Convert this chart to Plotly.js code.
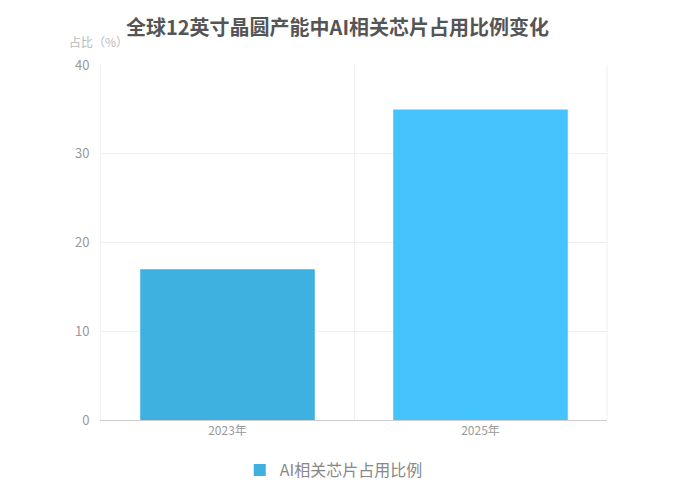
<!DOCTYPE html>
<html>
<head>
<meta charset="utf-8">
<script src="https://cdn.plot.ly/plotly-3.0.1.min.js"></script>
<style>html,body{margin:0;padding:0;background:#fff;}#chart{width:675px;height:500px;}</style>
</head>
<body>
<div id="chart"></div>
<script>
const categories = ["2023年", "2025年"];
const shareValues = [17, 35];
const barColors = ["#3EB1E0", "#45C3FC"];
const seriesName = "AI相关芯片占用比例";
const titleText = "全球12英寸晶圆产能中AI相关芯片占用比例变化";
const yTitleText = "占比（%）";

const font = '"Noto Sans CJK SC", "Open Sans", sans-serif';

Plotly.newPlot("chart", [{
  type: "bar",
  x: categories,
  y: shareValues,
  name: seriesName,
  marker: { color: barColors },
  width: 0.69,
  showlegend: true,
  hoverinfo: "x+y"
}], {
  width: 675, height: 500,
  margin: { l: 101, r: 68, t: 65, b: 80, autoexpand: false },
  paper_bgcolor: "#fff", plot_bgcolor: "#fff",
  font: { family: font, color: "#999", size: 12 },
  title: {
    text: "<b>" + titleText + "</b>",
    x: 0.5, xanchor: "center", y: 0.944, yanchor: "middle",
    font: { family: font, size: 20, color: "#555" }
  },
  xaxis: {
    type: "category",
    tickson: "boundaries",
    showgrid: true, gridcolor: "#EFEFEF", gridwidth: 1,
    showline: true, linecolor: "#CCCCCC", linewidth: 1,
    ticks: "", ticklen: 0,
    tickfont: { size: 12, color: "#999" },
    zeroline: false, fixedrange: true
  },
  yaxis: {
    range: [0, 40],
    tickvals: [0, 10, 20, 30, 40],
    showgrid: true, gridcolor: "#EFEFEF", gridwidth: 1,
    showline: true, linecolor: "#EFEFEF",
    zeroline: false,
    ticks: "", ticklabelstandoff: 8,
    tickfont: { size: 13, color: "#999" },
    fixedrange: true
  },
  shapes: [{
    type: "line", xref: "paper", yref: "paper", x0: 1, x1: 1, y0: 0, y1: 1,
    line: { color: "#EFEFEF", width: 1 }
  }],
  annotations: [{
    text: yTitleText, xref: "paper", yref: "paper", x: -0.005, y: 1.065,
    xanchor: "center", yanchor: "middle", showarrow: false,
    font: { family: font, size: 12, color: "#BBBBBB" }
  }],
  legend: {
    orientation: "h", x: 0.46, xanchor: "center",
    yref: "container", y: 0.06, yanchor: "middle",
    font: { family: font, size: 16, color: "#888" }
  },
  bargap: 0.31
}, { displayModeBar: false, staticPlot: true });
</script>
</body>
</html>
